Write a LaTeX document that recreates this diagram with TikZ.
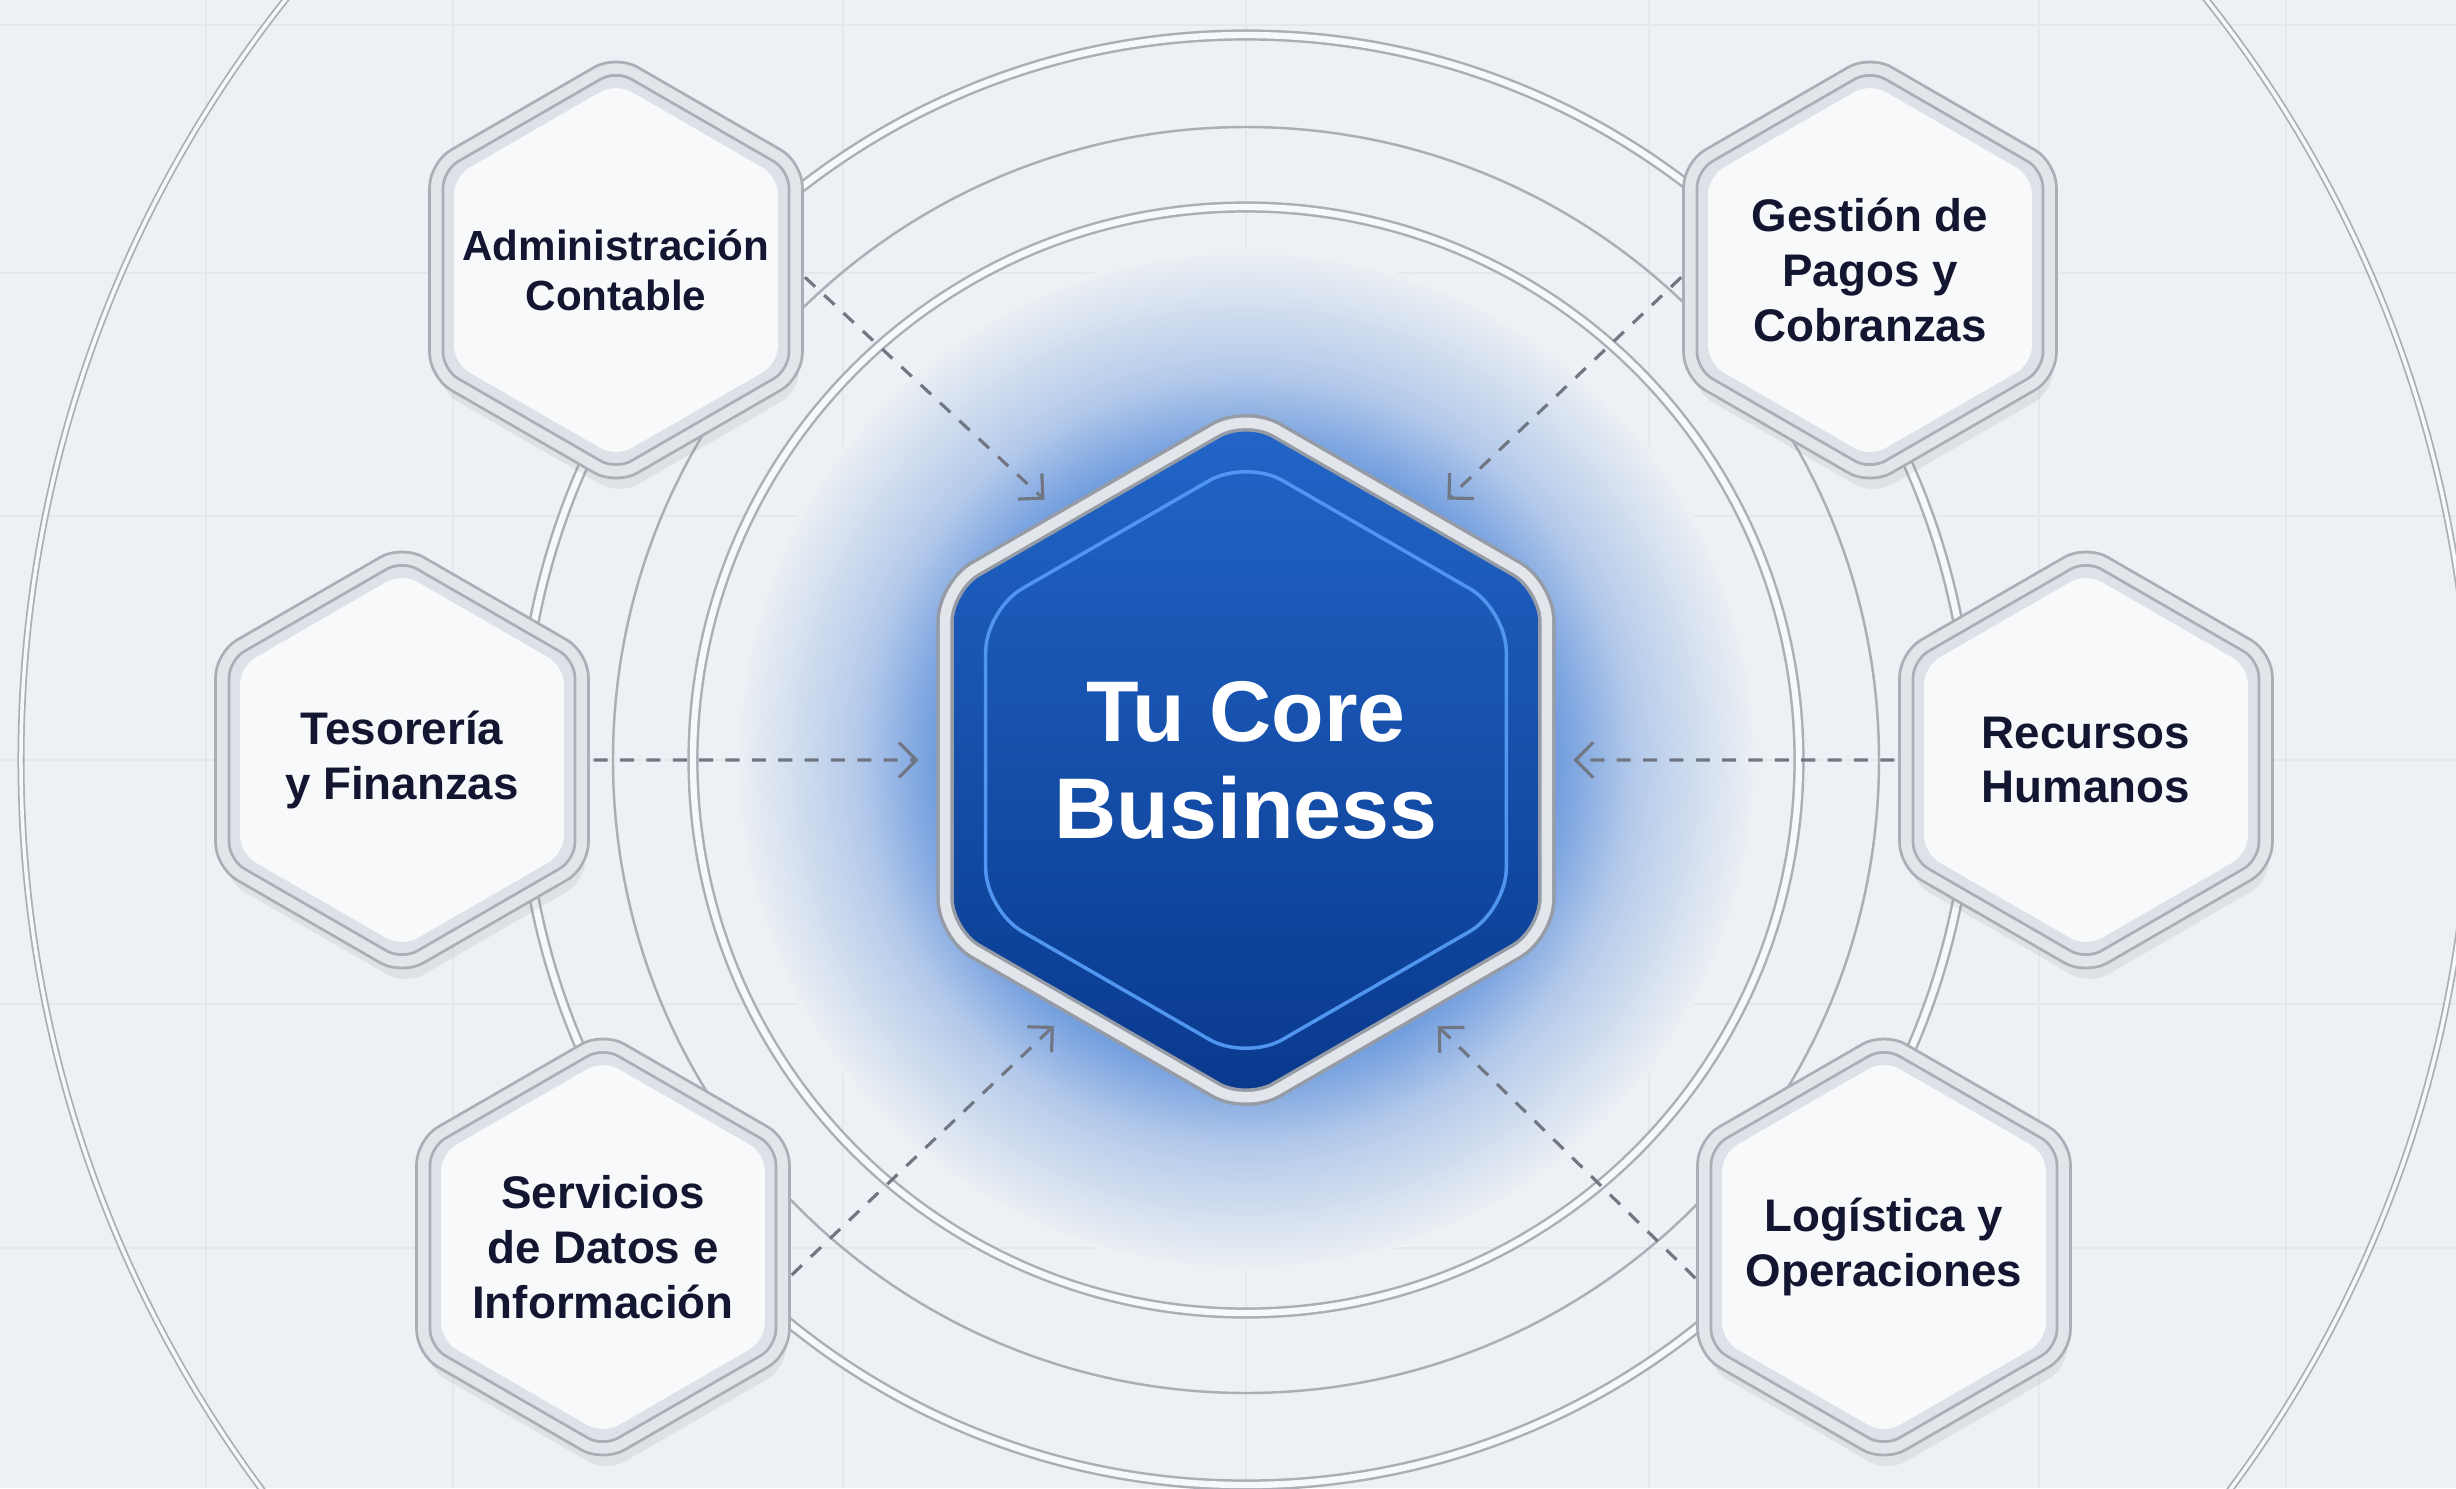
\documentclass[tikz,border=0pt]{standalone}
\usepackage{fontspec}
\setmainfont{Liberation Sans}
\usetikzlibrary{shapes.geometric,arrows.meta,calc,shadows}

\definecolor{bgc}{RGB}{237,240,244}
\definecolor{gridc}{RGB}{228,232,237}
\definecolor{ringc}{RGB}{170,174,181}
\definecolor{ringband}{RGB}{247,248,250}
\definecolor{inkc}{RGB}{18,22,48}
\definecolor{arrowc}{RGB}{112,118,130}
\definecolor{coretop}{RGB}{34,102,200}
\definecolor{corebot}{RGB}{8,56,140}
\definecolor{coreline}{RGB}{80,150,240}
\definecolor{glowc}{RGB}{110,155,222}
\definecolor{rimc}{RGB}{150,156,166}
\definecolor{rimband}{RGB}{226,229,234}
\definecolor{bandc}{RGB}{222,225,231}
\definecolor{facec}{RGB}{248,249,251}

\pgfdeclareradialshading{coreglow}{\pgfpoint{0cm}{0cm}}{color(0bp)=(glowc); color(15bp)=(glowc); color(19bp)=(glowc!45!bgc); color(25bp)=(bgc); color(50bp)=(bgc)}

\begin{document}
\begin{tikzpicture}[
  ringdbl/.style={draw=ringc, line width=.7pt, double=ringband, double distance=1.8pt},
  ringthin/.style={draw=ringc, line width=.7pt},
  gridline/.style={gridc, line width=.6pt},
  sat/.style={regular polygon, regular polygon sides=6, shape border rotate=30,
    minimum size=4.15cm, inner xsep=-1.2cm, inner ysep=-.6cm, rounded corners=6pt,
    draw=ringc, line width=.8pt, double=rimband, double distance=3pt, fill=bandc,
    drop shadow={opacity=.12, shadow xshift=1pt, shadow yshift=-5pt},
    path picture={\fill[facec, rounded corners=5pt]
      ($(path picture bounding box.center)+(90:1.87)$)
      \foreach \a in {150,210,270,330,30} {-- ($(path picture bounding box.center)+(\a:1.87)$)} -- cycle;},
    text=inkc, align=center, font=\fontsize{13}{15.6}\selectfont\bfseries},
  core/.style={regular polygon, regular polygon sides=6, shape border rotate=30,
    minimum size=6.95cm, inner xsep=-1cm, inner ysep=-.5cm, rounded corners=10pt,
    draw=rimc, line width=1pt, double=rimband, double distance=3pt,
    top color=coretop, bottom color=corebot,
    text=white, align=center, font=\fontsize{24.5}{27.6}\selectfont\bfseries},
  flow/.style={arrowc, line width=.9pt, dash pattern=on 4pt off 3.5pt,
    -{Straight Barb[length=5pt,width=10pt]}, shorten >=7pt, shorten <=3pt}
]
\useasboundingbox (-12.46,-7.28) rectangle (12.10,7.60);
\fill[bgc] (-12.46,-7.28) rectangle (12.10,7.60);

\foreach \x in {-10.4,-7.93,-4.03,0,4.03,7.93,10.4}
  \draw[gridline] (\x,-7.28) -- (\x,7.60);
\foreach \y in {7.35,4.87,2.44,0,-2.44,-4.88}
  \draw[gridline] (-12.46,\y) -- (12.10,\y);

\fill[white, opacity=.35] (0,0) circle (4.55);
\shade[shading=coreglow] (0,0) circle (5.1);

\draw[ringdbl] (0,0) circle (5.53);
\draw[ringthin] (0,0) circle (6.33);
\draw[ringdbl] (0,0) circle (7.25);
\draw[draw=ringc, line width=.5pt, double=ringband, double distance=1pt] (0,0) circle (12.25);

\node[core] (core) at (0,0) {Tu Core\\Business};
\draw[coreline, line width=1pt, rounded corners=12pt]
  ($(core)!.86!(core.corner 1)$) \foreach \k in {2,...,6} {-- ($(core)!.86!(core.corner \k)$)} -- cycle;

\node[sat, font=\fontsize{12}{14.2}\selectfont\bfseries] (adm) at (-6.30,4.90) {Administración\\Contable};
\node[sat] (pag) at (6.24,4.90) {Gestión de\\Pagos y\\Cobranzas};
\node[sat] (tes) at (-8.44,0) {Tesorería\\y Finanzas};
\node[sat] (rrhh) at (8.40,0) {Recursos\\Humanos};
\node[sat] (dat) at (-6.43,-4.87) {Servicios\\de Datos e\\Información};
\node[sat] (log) at (6.38,-4.87) {Logística y\\Operaciones};

\draw[flow] (adm.0) -- (core.127);
\draw[flow] (pag.180) -- (core.53);
\draw[flow] (tes.0) -- (core.180);
\draw[flow] (rrhh.180) -- (core.0);
\draw[flow] (dat.349) -- (core.235);
\draw[flow] (log.192) -- (core.305);
\end{tikzpicture}
\end{document}
